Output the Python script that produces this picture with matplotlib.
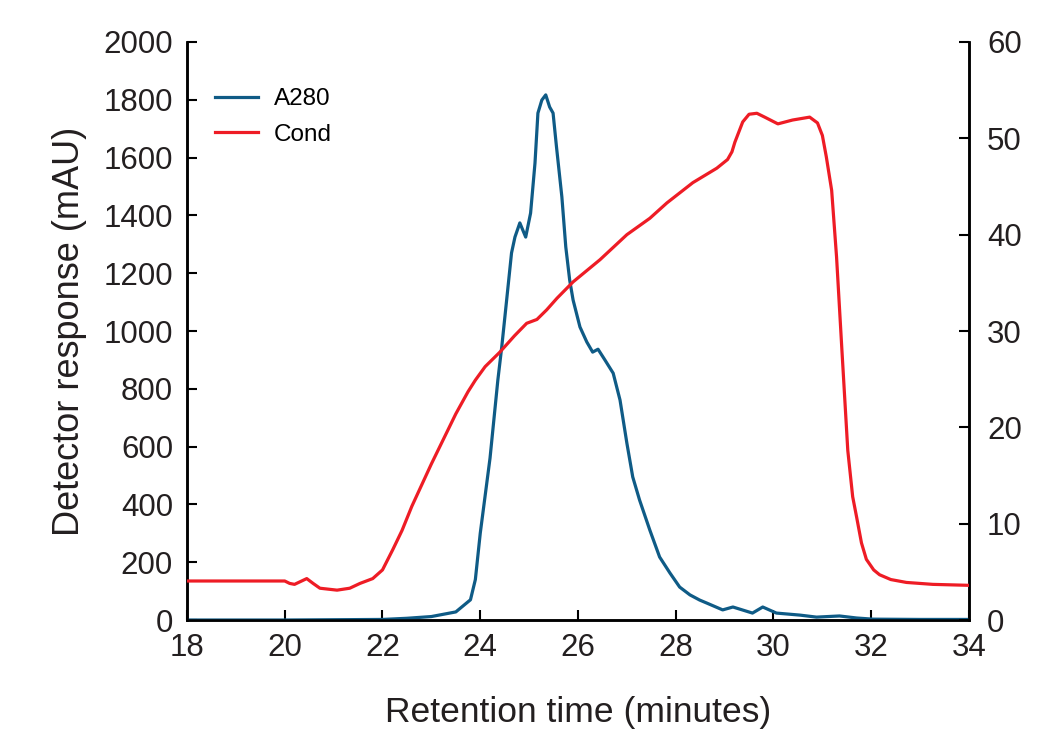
import matplotlib
matplotlib.use('Agg')
import matplotlib.pyplot as plt

plt.rcParams.update({
    'font.family': ['Liberation Sans', 'DejaVu Sans'],
    'axes.spines.top': False,
})

# ── A280 trace (mAU) ──
a280_t = [18.0, 20.0, 22.0, 22.5, 23.0, 23.5, 23.8, 23.9, 24.0, 24.2, 24.36, 24.44, 24.54,
          24.64, 24.71, 24.81, 24.93, 25.03, 25.12, 25.18, 25.26, 25.34, 25.42,
          25.49, 25.56, 25.67, 25.75, 25.83, 25.9, 26.04, 26.18, 26.3, 26.41,
          26.55, 26.72, 26.86, 27.0, 27.12, 27.26, 27.47, 27.67, 27.88, 28.08,
          28.29, 28.49, 28.63, 28.96, 29.17, 29.57, 29.78, 30.06, 30.54, 30.88,
          31.35, 31.7, 32.03, 33.0, 34.0]
a280_v = [0, 0, 2, 6, 12, 28, 70, 140, 300, 560, 830, 945, 1107,
          1270, 1325, 1374, 1325, 1408, 1581, 1754, 1799, 1817, 1775,
          1754, 1637, 1464, 1291, 1176, 1107, 1014, 962, 927, 937,
          900, 854, 761, 612, 495, 415, 311, 218, 163, 114,
          87, 69, 59, 35, 45, 24, 45, 24, 17, 10,
          14, 7, 3, 2, 2]

# ── Conductivity trace ──
cond_t = [18.0, 20.0, 20.1, 20.2, 20.45, 20.58, 20.72, 21.07, 21.33, 21.54, 21.8,
          22.0, 22.21, 22.4, 22.6, 23.0, 23.5, 23.75, 23.9, 24.1, 24.4, 24.7, 24.95, 25.16, 25.36,
          25.57, 25.9, 26.45, 27.0, 27.47, 27.82, 28.35, 28.84, 29.06, 29.15, 29.21,
          29.37, 29.5, 29.66, 29.82, 30.09, 30.39, 30.74, 30.9, 31.0, 31.08, 31.19, 31.29,
          31.4, 31.52, 31.62, 31.7, 31.8, 31.9, 32.05, 32.17, 32.4, 32.72, 33.26, 34.0]
cond_v = [4.05, 4.05, 3.8, 3.7, 4.3, 3.8, 3.3, 3.1, 3.3, 3.8, 4.3,
          5.2, 7.3, 9.3, 11.8, 16.2, 21.4, 23.7, 24.9, 26.3, 27.8, 29.5, 30.8, 31.2, 32.2,
          33.4, 35.1, 37.4, 40.0, 41.7, 43.3, 45.4, 46.9, 47.8, 48.6, 49.6,
          51.7, 52.5, 52.6, 52.2, 51.5, 51.9, 52.2, 51.6, 50.3, 48.1, 44.6, 37.7,
          28.0, 17.6, 12.8, 10.7, 8.0, 6.3, 5.2, 4.7, 4.2, 3.9, 3.7, 3.6]

x_ticks = [18, 20, 22, 24, 26, 28, 30, 32, 34]
y_ticks = [0, 200, 400, 600, 800, 1000, 1200, 1400, 1600, 1800, 2000]
y2_ticks = [0, 10, 20, 30, 40, 50, 60]

blue = '#0F5B86'
red = '#EE1C25'
txt = '#231F20'

fig = plt.figure(figsize=(10.47, 7.29), dpi=100)
ax = fig.add_axes([0.1786, 0.1495, 0.7469, 0.7929])
ax2 = ax.twinx()

la, = ax.plot(a280_t, a280_v, color=blue, lw=2.3, label='A280', zorder=3,
              solid_joinstyle='round')
lc, = ax2.plot(cond_t, cond_v, color=red, lw=2.3, label='Cond', zorder=3,
               solid_joinstyle='round')

ax.set_xlim(18, 34)
ax.set_ylim(0, 2000)
ax2.set_ylim(0, 60)
ax.set_xticks(x_ticks)
ax.set_yticks(y_ticks)
ax2.set_yticks(y2_ticks)

for a in (ax, ax2):
    a.spines['top'].set_visible(False)
    for s in a.spines.values():
        s.set_linewidth(1.8)
    a.tick_params(direction='in', length=7, width=1.5, labelsize=22.5,
                  colors='black', labelcolor=txt, pad=10)
ax.tick_params(axis='x', pad=9)
ax2.tick_params(axis='y', pad=13)

ax.set_xlabel('Retention time (minutes)', fontsize=25.5, color=txt, labelpad=24)
ax.set_ylabel('Detector response (mAU)', fontsize=26, color=txt, labelpad=12)

ax.legend([la, lc], ['A280', 'Cond'], loc='upper left', frameon=False,
          fontsize=17.5, handlelength=1.75, handletextpad=0.65,
          bbox_to_anchor=(0.008, 0.958), labelspacing=0.55)

plt.savefig('out.png', dpi=100, facecolor='white')
